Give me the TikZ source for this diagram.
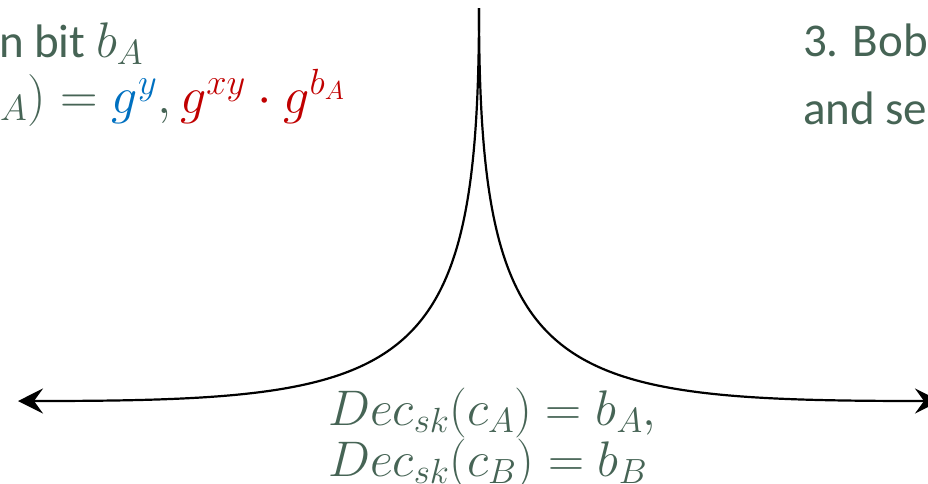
\RequirePackage{fix-cm}
\documentclass[tikz,border=0pt]{standalone}
\usepackage{fontspec}
\setmainfont{Carlito}
\usetikzlibrary{arrows.meta}
\definecolor{txtgreen}{RGB}{70,100,85}
\definecolor{mblue}{RGB}{0,112,192}
\definecolor{mred}{RGB}{192,0,0}
\tikzset{
  lbl/.style={inner sep=0pt, outer sep=0pt, anchor=base west, text=txtgreen},
  toptxt/.style={lbl, font=\fontsize{47}{56}\selectfont},
  topmath/.style={lbl, font=\fontsize{52}{60}\selectfont},
  bottxt/.style={lbl, font=\fontsize{50}{60}\selectfont},
  curve/.style={line width=2.2pt, draw=black, -{Stealth[length=25pt,width=25pt,inset=9pt]}}
}
\begin{document}
\begin{tikzpicture}[x=1pt,y=-1pt]
\useasboundingbox (0,0) rectangle (928,483);
\clip (0,0) rectangle (928,483);
\coordinate (top) at (479,8);
\coordinate (L) at (18,401);
\coordinate (R) at (940,401);
\draw[curve] (top) .. controls (479,380) and (410,401) .. (L);
\draw[curve] (top) .. controls (479,380) and (548,401) .. (R);
\node[toptxt] (t1) at (-1,57) {n bit {\fontsize{50}{56}\selectfont$b_A$}};
\node[topmath] (t2) at (0,113) {$_A)=\textcolor{mblue}{g^y},\textcolor{mred}{g^{xy}\cdot g^{b_A}}$};
\node[toptxt] (r1) at (803,56) {3. Bob};
\node[toptxt] (r2) at (803,124) {and se};
\node[bottxt] (d1) at (328,425) {$Dec_{sk}(c_A)=b_A,$};
\node[bottxt] (d2) at (328,476) {$Dec_{sk}(c_B)=b_B$};
\end{tikzpicture}
\end{document}
